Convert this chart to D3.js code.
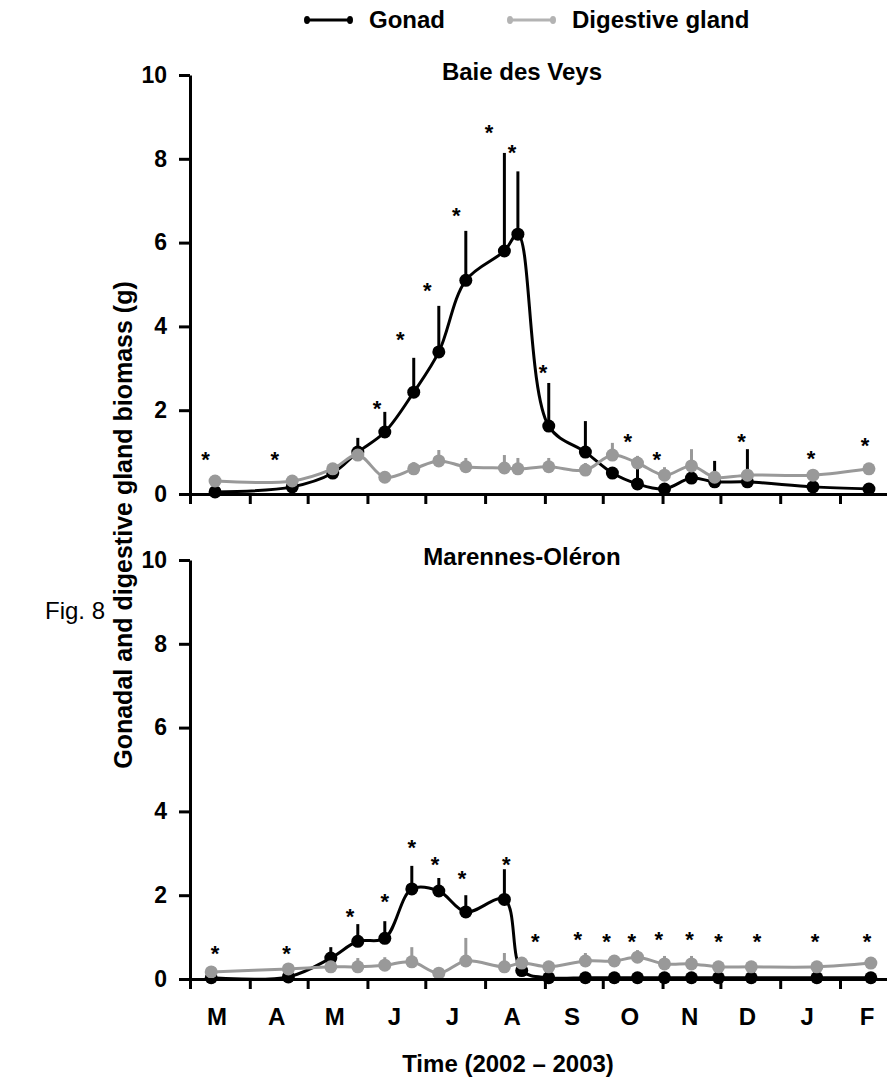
<!DOCTYPE html>
<html>
<head>
<meta charset="utf-8">
<script src="https://cdn.jsdelivr.net/npm/d3@7"></script>
<style>
  body { margin: 0; background: #fff; }
  svg { font-family: "Liberation Sans", Arial, sans-serif; }
</style>
</head>
<body>
<svg id="canvas"></svg>
<script>
const width = 887;
const height = 1081;

const months = ["M", "A", "M", "J", "J", "A", "S", "O", "N", "D", "J", "F"];
const yTicks = [0, 2, 4, 6, 8, 10];

// Baie des Veys
const bdvDates = ["2002-03-14", "2002-04-23", "2002-05-14", "2002-05-27", "2002-06-10", "2002-06-25",
    "2002-07-08", "2002-07-22", "2002-08-11", "2002-08-18", "2002-09-03", "2002-09-22", "2002-10-06",
    "2002-10-19", "2002-11-02", "2002-11-16", "2002-11-28", "2002-12-15", "2003-01-18", "2003-02-16"];
const bdvGonad = [0.05, 0.17, 0.5, 1.0, 1.48, 2.43, 3.39, 5.1, 5.8, 6.2, 1.62, 1.0, 0.5, 0.24, 0.12, 0.38, 0.29, 0.29, 0.17, 0.12];
const bdvGonadSD = [0, 0, 0, 0.34, 0.48, 0.82, 1.1, 1.18, 2.34, 1.5, 1.03, 0.74, 0, 0.36, 0, 0, 0.5, 0.78, 0, 0];
const bdvDigest = [0.31, 0.31, 0.6, 0.93, 0.4, 0.6, 0.79, 0.65, 0.62, 0.6, 0.65, 0.57, 0.93, 0.74, 0.45, 0.67, 0.4, 0.45, 0.45, 0.6];
const bdvDigestSD = [0, 0, 0.14, 0, 0, 0.16, 0.26, 0.21, 0.31, 0.26, 0.21, 0.17, 0.29, 0.17, 0.19, 0.4, 0, 0, 0, 0];
const bdvStarDates = ["2002-03-09", "2002-04-14", "2002-06-06", "2002-06-18", "2002-07-02", "2002-07-17", "2002-08-03",
    "2002-08-15", "2002-08-31", "2002-10-14", "2002-10-29", "2002-12-12", "2003-01-17", "2003-02-14"];
const bdvStarY = [0.93, 0.93, 2.15, 3.8, 4.96, 6.75, 8.73, 8.26, 3.0, 1.36, 0.93, 1.36, 0.95, 1.26];

// Marennes-Oléron
const moDates = ["2002-03-12", "2002-04-21", "2002-05-13", "2002-05-27", "2002-06-10", "2002-06-24",
    "2002-07-08", "2002-07-22", "2002-08-11", "2002-08-20", "2002-09-03", "2002-09-22", "2002-10-07",
    "2002-10-19", "2002-11-02", "2002-11-16", "2002-11-30", "2002-12-17", "2003-01-20", "2003-02-17"];
const moGonad = [0.03, 0.05, 0.5, 0.9, 0.97, 2.15, 2.1, 1.6, 1.9, 0.2, 0.03, 0.03, 0.03, 0.03, 0.03, 0.03, 0.03, 0.03, 0.03, 0.03];
const moGonadSD = [0, 0, 0.26, 0.41, 0.41, 0.55, 0.31, 0.4, 0.72, 0, 0, 0, 0, 0, 0, 0, 0, 0, 0, 0];
const moDigest = [0.17, 0.24, 0.29, 0.29, 0.33, 0.41, 0.14, 0.43, 0.29, 0.38, 0.29, 0.43, 0.43, 0.52, 0.36, 0.36, 0.29, 0.29, 0.29, 0.38];
const moDigestSD = [0, 0, 0, 0.21, 0.19, 0.35, 0, 0.55, 0.33, 0, 0, 0.19, 0, 0.17, 0.19, 0.19, 0, 0, 0, 0];
const moStarDates = ["2002-03-14", "2002-04-20", "2002-05-23", "2002-06-10", "2002-06-24", "2002-07-06", "2002-07-20",
    "2002-08-12", "2002-08-27", "2002-09-18", "2002-10-03", "2002-10-16", "2002-10-30", "2002-11-15", "2002-11-30",
    "2002-12-20", "2003-01-19", "2003-02-15"];
const moStarY = [0.71, 0.71, 1.6, 1.96, 3.24, 2.84, 2.5, 2.84, 1.0, 1.05, 1.0, 1.0, 1.05, 1.05, 1.0, 1.0, 1.0, 1.0];

const black = "#000";
const grey = "#999";
const fontSize = 24;

const svg = d3.select("#canvas")
    .attr("width", width)
    .attr("height", height);

const parse = d3.timeParse("%Y-%m-%d");
const start = new Date(2002, 2, 1);
const end = new Date(2003, 2, 1);

const x = d3.scaleTime().domain([start, end]).range([190, 894]);
const monthStarts = d3.timeMonth.range(start, end);

const line = d3.line()
    .x(d => x(d.date))
    .y(d => d.y)
    .curve(d3.curveCatmullRom.alpha(0.5));

function drawPanel(top, bottom, title, dates, gonad, gonadSD, digest, digestSD, starDates, starY, withLabels) {
    const y = d3.scaleLinear().domain([0, 10]).range([bottom, top]);
    const g = svg.append("g");

    const series = [
        { color: black, values: gonad, sd: gonadSD },
        { color: grey, values: digest, sd: digestSD }
    ];

    series.forEach(s => {
        const pts = dates.map((d, i) => ({ date: parse(d), v: s.values[i], sd: s.sd[i] }));

        // error bars (upper only)
        g.selectAll(null)
            .data(pts.filter(p => p.sd > 0))
            .enter()
            .append("line")
            .attr("x1", p => x(p.date))
            .attr("x2", p => x(p.date))
            .attr("y1", p => y(p.v))
            .attr("y2", p => y(p.v + p.sd))
            .attr("stroke", s.color)
            .attr("stroke-width", 3);

        g.append("path")
            .attr("d", line(pts.map(p => ({ date: p.date, y: y(p.v) }))))
            .attr("fill", "none")
            .attr("stroke", s.color)
            .attr("stroke-width", 3);

        g.selectAll(null)
            .data(pts)
            .enter()
            .append("circle")
            .attr("cx", p => x(p.date))
            .attr("cy", p => y(p.v))
            .attr("r", 6.5)
            .attr("fill", s.color);
    });

    // significance stars
    g.selectAll(null)
        .data(starDates.map((d, i) => ({ date: parse(d), v: starY[i] })))
        .enter()
        .append("text")
        .attr("x", p => x(p.date))
        .attr("y", p => y(p.v) + 12)
        .attr("text-anchor", "middle")
        .attr("font-size", 22)
        .attr("font-weight", "bold")
        .text("*");

    // axes
    const yAxis = g.append("g")
        .attr("transform", "translate(190,0)")
        .call(d3.axisLeft(y).tickValues(yTicks).tickSize(11).tickSizeOuter(0).tickPadding(12));
    const xAxis = g.append("g")
        .attr("transform", `translate(0,${bottom})`)
        .call(d3.axisBottom(x).tickValues(monthStarts).tickSize(10).tickSizeOuter(0).tickFormat(""));

    [yAxis, xAxis].forEach(a => {
        a.select(".domain").attr("stroke-width", 3);
        a.selectAll(".tick line").attr("stroke-width", 3);
        a.selectAll("text")
            .attr("font-family", "Liberation Sans, Arial, sans-serif")
            .attr("font-size", 23)
            .attr("font-weight", "bold")
            .attr("fill", black);
    });
    xAxis.select(".domain").attr("d", `M179,0.5H887`);

    if (withLabels) {
        g.selectAll(null)
            .data(monthStarts)
            .enter()
            .append("text")
            .attr("x", (d, i) => x(d3.timeDay.offset(d, 14)))
            .attr("y", bottom + 46)
            .attr("text-anchor", "middle")
            .attr("font-size", fontSize)
            .attr("font-weight", "bold")
            .text((d, i) => months[i]);
    }

    g.append("text")
        .attr("x", 522)
        .attr("y", top + 5)
        .attr("text-anchor", "middle")
        .attr("font-size", fontSize)
        .attr("font-weight", "bold")
        .text(title);
}

drawPanel(75, 494, "Baie des Veys", bdvDates, bdvGonad, bdvGonadSD, bdvDigest, bdvDigestSD, bdvStarDates, bdvStarY, false);
drawPanel(560, 979, "Marennes-Oléron", moDates, moGonad, moGonadSD, moDigest, moDigestSD, moStarDates, moStarY, true);

// axis titles
svg.append("text")
    .attr("transform", "translate(132,525) rotate(-90)")
    .attr("text-anchor", "middle")
    .attr("font-size", 25)
    .attr("font-weight", "bold")
    .text("Gonadal and digestive gland biomass (g)");

svg.append("text")
    .attr("x", 508)
    .attr("y", 1072)
    .attr("text-anchor", "middle")
    .attr("font-size", fontSize)
    .attr("font-weight", "bold")
    .text("Time (2002 \u2013 2003)");

svg.append("text")
    .attr("x", 45)
    .attr("y", 619)
    .attr("font-size", fontSize)
    .text("Fig. 8");

// legend
const legend = [
    { label: "Gonad", color: black, x: 307 },
    { label: "Digestive gland", color: "#b3b3b3", x: 510 }
];
legend.forEach(l => {
    const lg = svg.append("g").attr("transform", `translate(${l.x},20)`);
    lg.append("line").attr("x1", 0).attr("x2", 43).attr("stroke", l.color).attr("stroke-width", 3);
    lg.selectAll(null).data([0, 43]).enter().append("ellipse")
        .attr("cx", d => d).attr("rx", 3).attr("ry", 4).attr("fill", l.color);
    lg.append("text")
        .attr("x", 62)
        .attr("y", 8)
        .attr("font-size", fontSize)
        .attr("font-weight", "bold")
        .attr("fill", black)
        .text(l.label);
});
</script>
</body>
</html>
